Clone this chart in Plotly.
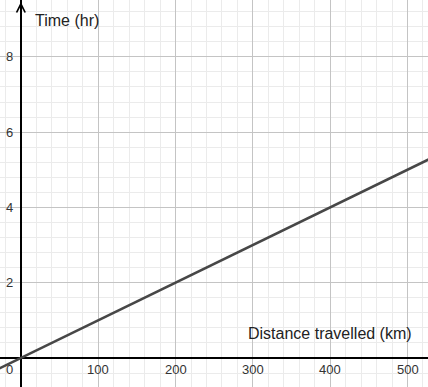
import plotly.graph_objects as go

# Data
distance_km = [-50, 0, 100, 200, 300, 400, 500, 550]
time_hr = [-0.5, 0, 1, 2, 3, 4, 5, 5.5]

x_tick_vals = [100, 200, 300, 400, 500]
x_tick_text = ["100", "200", "300", "400", "500"]
y_tick_vals = [2, 4, 6, 8]
y_tick_text = ["2", "4", "6", "8"]

x_title = "Distance travelled (km)"
y_title = "Time (hr)"

X_RANGE = [-27, 526.5]
Y_RANGE = [-0.77, 9.51]

FONT = "Liberation Sans, Arial, sans-serif"

fig = go.Figure()
fig.add_trace(go.Scatter(
    x=distance_km, y=time_hr, mode="lines",
    line=dict(color="#474747", width=2.6),
    hoverinfo="skip", showlegend=False,
))

annotations = []
for v, t in zip(x_tick_vals, x_tick_text):
    annotations.append(dict(x=v, y=0, xref="x", yref="y", text=t, showarrow=False,
                            xanchor="center", yanchor="top", yshift=-2,
                            font=dict(family=FONT, size=13, color="#333")))
for v, t in zip(y_tick_vals, y_tick_text):
    annotations.append(dict(x=0, y=v, xref="x", yref="y", text=t, showarrow=False,
                            xanchor="right", yanchor="middle", xshift=-6,
                            font=dict(family=FONT, size=13, color="#333")))
annotations.append(dict(x=0, y=0, xref="x", yref="y", text="0", showarrow=False,
                        xanchor="right", yanchor="top", xshift=-6, yshift=-2,
                        font=dict(family=FONT, size=13, color="#333")))
annotations.append(dict(x=0, y=Y_RANGE[1], xref="x", yref="y", text=y_title, showarrow=False,
                        xanchor="left", yanchor="top", xshift=12, yshift=-10,
                        font=dict(family=FONT, size=16, color="#222")))
annotations.append(dict(x=X_RANGE[1], y=0, xref="x", yref="y", text=x_title, showarrow=False,
                        xanchor="right", yanchor="bottom", xshift=-14, yshift=14,
                        font=dict(family=FONT, size=16, color="#222")))
# open chevron arrow on top of the y axis
annotations.append(dict(x=0, y=Y_RANGE[1], ax=0, ay=30, xref="x", yref="y",
                        text="", showarrow=True, standoff=2,
                        arrowhead=5, arrowsize=1.3, arrowwidth=1.3, arrowcolor="black"))

fig.update_layout(
    width=428, height=387,
    margin=dict(l=0, r=0, t=0, b=0),
    plot_bgcolor="white", paper_bgcolor="white",
    annotations=annotations,
    xaxis=dict(range=X_RANGE, showticklabels=False, ticks="", dtick=100, tick0=0,
               showgrid=True, gridcolor="#c4c4c4", gridwidth=1,
               minor=dict(dtick=20, tick0=0, showgrid=True, gridcolor="#ebebeb", gridwidth=1),
               zeroline=True, zerolinecolor="black", zerolinewidth=1.5, fixedrange=True),
    yaxis=dict(range=Y_RANGE, showticklabels=False, ticks="", dtick=2, tick0=0,
               showgrid=True, gridcolor="#c4c4c4", gridwidth=1,
               minor=dict(dtick=0.4, tick0=0, showgrid=True, gridcolor="#ebebeb", gridwidth=1),
               zeroline=True, zerolinecolor="black", zerolinewidth=1.5, fixedrange=True),
)

fig.write_html("out.html", config={"displayModeBar": False},
               post_script="document.body.style.margin='0';")
